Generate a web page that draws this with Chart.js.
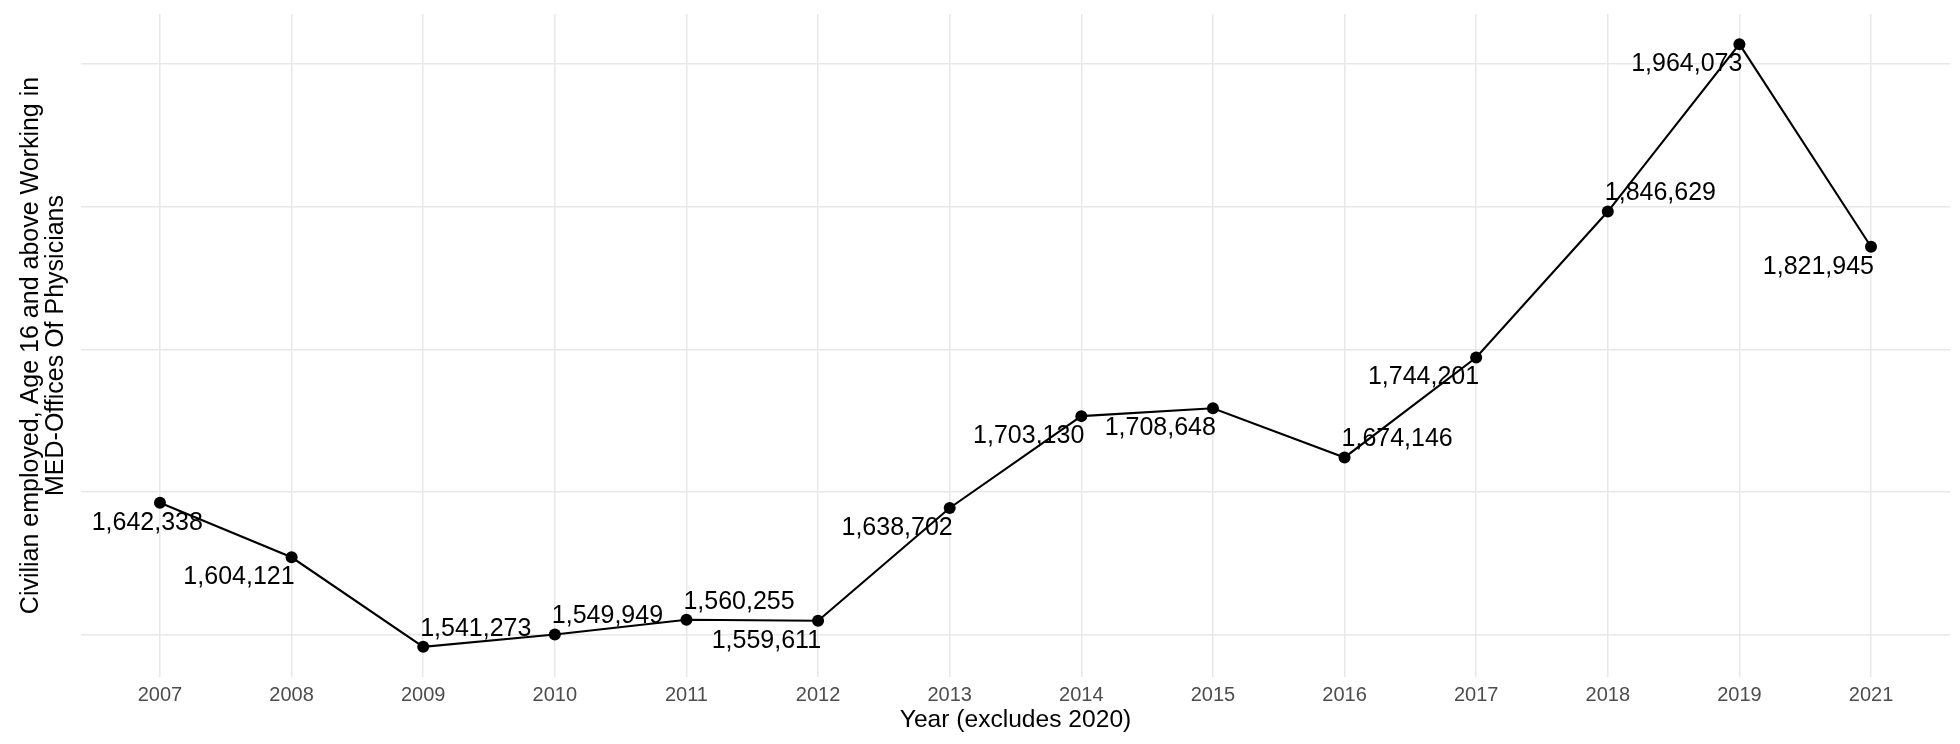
<!DOCTYPE html>
<html>
<head>
<meta charset="utf-8">
<script src="https://cdn.jsdelivr.net/npm/chart.js@4.4.1/dist/chart.umd.min.js"></script>
<style>
  html, body { margin: 0; padding: 0; background: #ffffff; }
  canvas { display: block; }
</style>
</head>
<body>
<canvas id="c" width="1960" height="744"></canvas>
<script>
// ---- data ----
const years = ['2007','2008','2009','2010','2011','2012','2013','2014','2015','2016','2017','2018','2019','2021'];
const employed = [1642338, 1604121, 1541273, 1549949, 1560255, 1559611, 1638702, 1703130, 1708648, 1674146, 1744201, 1846629, 1964073, 1821945];
const yGridValues = [1550000, 1650000, 1750000, 1850000, 1950000];
// label placement style: 'below' = under-left of point, 'above' = over-right of point
const labelPlacement = ['below','below','above','above','above','below','below','below','below','above','below','above','below','below'];

const FONT = '"Liberation Sans", Arial, Helvetica, sans-serif';
const yMinData = Math.min(...employed), yMaxData = Math.max(...employed);
const yPad = (yMaxData - yMinData) * 0.05;

const fmt = v => v.toLocaleString('en-US');

const labelPlugin = {
  id: 'pointLabels',
  afterDatasetsDraw(chart) {
    const ctx = chart.ctx;
    const meta = chart.getDatasetMeta(0);
    const area = chart.chartArea;
    ctx.save();
    ctx.font = '25px ' + FONT;
    ctx.fillStyle = '#000000';
    ctx.textBaseline = 'middle';
    meta.data.forEach((pt, i) => {
      const txt = fmt(employed[i]);
      const w = ctx.measureText(txt).width;
      let left, cy;
      if (labelPlacement[i] === 'below') {
        left = pt.x + 3 - w;
        cy = pt.y + 20;
      } else {
        left = pt.x - 3;
        cy = pt.y - 18;
      }
      if (left < area.left + 10.7) left = area.left + 10.7;
      if (left + w > area.right - 4) left = area.right - 4 - w;
      ctx.textAlign = 'left';
      ctx.fillText(txt, left, cy);
    });
    ctx.restore();
  }
};

new Chart(document.getElementById('c'), {
  type: 'line',
  data: {
    datasets: [{
      data: employed.map((v, i) => ({ x: i, y: v })),
      borderColor: '#000000',
      backgroundColor: '#000000',
      borderWidth: 2.1,
      pointRadius: 6,
      pointHoverRadius: 6,
      pointBackgroundColor: '#000000',
      pointBorderWidth: 0,
      tension: 0,
      fill: false
    }]
  },
  options: {
    responsive: false,
    animation: false,
    devicePixelRatio: 1,
    layout: { padding: { left: 0, right: 10, top: 14, bottom: 0 } },
    plugins: {
      legend: { display: false },
      tooltip: { enabled: false }
    },
    scales: {
      x: {
        type: 'linear',
        min: -0.6,
        max: years.length - 1 + 0.6,
        afterBuildTicks: s => { s.ticks = years.map((_, i) => ({ value: i })); },
        afterFit: s => { s.height = 67; },
        border: { display: false },
        grid: { color: '#e8e8e8', lineWidth: 1.5, drawTicks: false },
        ticks: {
          autoSkip: false,
          maxRotation: 0,
          padding: 6,
          color: '#4d4d4d',
          font: { family: FONT, size: 20 },
          callback: v => years[v]
        },
        title: {
          display: true,
          text: 'Year (excludes 2020)',
          color: '#000000',
          font: { family: FONT, size: 24.6, lineHeight: 1.2 },
          padding: { top: 0, bottom: 8.7 }
        }
      },
      y: {
        type: 'linear',
        min: yMinData - yPad,
        max: yMaxData + yPad,
        afterBuildTicks: s => { s.ticks = yGridValues.map(v => ({ value: v })); },
        afterFit: s => { s.width = 81; },
        border: { display: false },
        grid: { color: '#e8e8e8', lineWidth: 1.5, drawTicks: false },
        ticks: { display: false },
        title: {
          display: true,
          text: ['Civilian employed, Age 16 and above Working in', 'MED-Offices Of Physicians'],
          color: '#000000',
          font: { family: FONT, size: 25, lineHeight: 1.0 },
          padding: { top: 18.4, bottom: 0 }
        }
      }
    }
  },
  plugins: [labelPlugin]
});
</script>
</body>
</html>
